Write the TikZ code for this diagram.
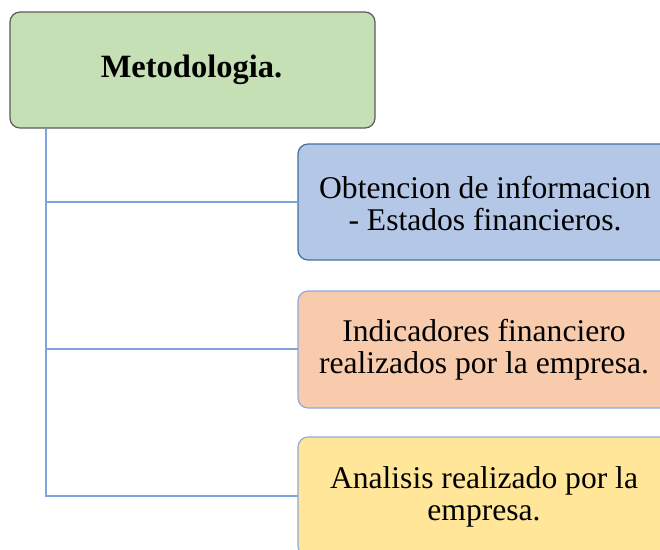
\documentclass[tikz,border=0pt]{standalone}
\usepackage{fontspec}
\setmainfont{Liberation Serif}
\definecolor{gfill}{RGB}{197,224,180}
\definecolor{gline}{RGB}{90,90,90}
\definecolor{bfill}{RGB}{180,199,231}
\definecolor{bline}{RGB}{65,113,156}
\definecolor{ofill}{RGB}{248,203,173}
\definecolor{yfill}{RGB}{255,230,153}
\definecolor{lline}{RGB}{143,170,220}
\definecolor{conn}{RGB}{125,164,222}
\tikzset{
  boxstyle/.style={rounded corners=10pt, line width=1.2pt},
  lbl/.style={align=center, font=\fontsize{31.6}{32}\selectfont, inner sep=0pt},
  connector/.style={draw=conn, line width=2.2pt}
}
\begin{document}
\begin{tikzpicture}[x=1pt,y=-1pt]
\useasboundingbox (0,0) rectangle (660,549);
\clip (0,0) rectangle (660,549);
% top box
\draw[boxstyle, fill=gfill, draw=gline] (10,12) rectangle (375,128);
\node[lbl, font=\fontsize{32.5}{32}\selectfont\bfseries] (top) at (191.5,70) {Metodologia.};
% child boxes
\draw[boxstyle, fill=bfill, draw=bline] (298,144) rectangle (672,260);
\node[lbl] (c1) at (485,204) {Obtencion de informacion\\- Estados financieros.};
\draw[boxstyle, fill=ofill, draw=lline] (298,291) rectangle (672,408);
\node[lbl] (c2) at (484,350) {Indicadores financiero\\realizados por la empresa.};
\draw[boxstyle, fill=yfill, draw=lline] (298,437) rectangle (672,556);
\node[lbl] (c3) at (484,497) {Analisis realizado por la\\empresa.};
% connectors
\coordinate (trunk) at (46,128.6);
\coordinate (j1) at (46,202);
\coordinate (j2) at (46,349);
\coordinate (j3) at (46,496);
\coordinate (e1) at (298,202);
\coordinate (e2) at (298,349);
\coordinate (e3) at (298,496);
\draw[connector] (trunk) -- (j3) -- (e3);
\draw[connector] (j1) -- (e1);
\draw[connector] (j2) -- (e2);
\end{tikzpicture}
\end{document}
